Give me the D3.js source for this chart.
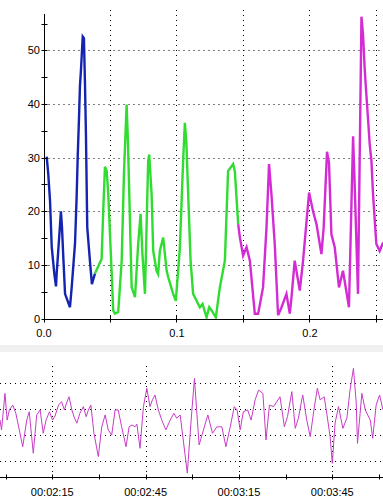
<!DOCTYPE html>
<html><head><meta charset="utf-8">
<script src="https://cdn.jsdelivr.net/npm/d3@7"></script>
<style>
html,body{margin:0;padding:0;background:#fff;}
svg{display:block;}
text{font-family:Arial,"Liberation Sans",sans-serif;font-size:11px;fill:#000;}
</style></head>
<body>
<script>
// ---------- data: top chart (x, value) ----------
const blueSeries = [
 [0.0024,30.2],[0.0036,26.9],[0.0049,22],[0.0062,13.3],[0.0081,8.4],[0.0094,6],[0.0099,8.4],
 [0.0111,12.6],[0.0131,20],[0.0139,17],[0.0149,11.4],[0.0162,4.6],[0.0199,2.1],[0.0212,5.8],
 [0.0237,14],[0.0249,22.5],[0.0257,30],[0.0267,37.4],[0.0274,43.3],[0.0282,46.5],[0.0295,52.6],
 [0.0304,52.3],[0.0312,43.7],[0.0319,34.6],[0.0329,17],[0.0349,10.8],[0.0364,6.4],[0.0387,8.4]
];
const greenSeries = [
 [0.0387,8.4],[0.0437,11.1],[0.0449,20],[0.0462,28.3],[0.0475,27.5],[0.0487,23.2],[0.0512,8.9],
 [0.0524,1.5],[0.0537,0.9],[0.0562,1.2],[0.0588,10.8],[0.0605,27],[0.0625,39.9],[0.0635,33],
 [0.0663,5.8],[0.0688,4],[0.0712,13.9],[0.0730,19.5],[0.0744,12],[0.0763,4.6],[0.0787,29.4],
 [0.0795,30.6],[0.0813,23.2],[0.0825,12.6],[0.0850,8.9],[0.0862,8.3],[0.0875,12.6],[0.0900,15.1],
 [0.0913,12],[0.0926,8.9],[0.0938,7.7],[0.0975,4.6],[0.0995,3.3],[0.1025,13],[0.1050,29.4],
 [0.1063,36.5],[0.1074,33],[0.1088,23.2],[0.1106,10.8],[0.1125,4.6],[0.1151,3.3],[0.1176,2.1],
 [0.1196,2.7],[0.1226,0.2],[0.1246,2.1],[0.1264,1.5],[0.1296,0.2],[0.1326,5.8],[0.1364,10.8],
 [0.1388,27.5],[0.1426,28.8],[0.1439,27.5],[0.1464,17.6]
];
const magentaSeries = [
 [0.1464,17.6],[0.1477,15.1],[0.1501,11.7],[0.1527,13.3],[0.1552,10.8],[0.1589,0.9],[0.1614,0.9],
 [0.1651,5.8],[0.1677,17],[0.1696,28.8],[0.1714,23.2],[0.1739,13.9],[0.1764,0.6],[0.1790,2.1],
 [0.1827,4.6],[0.1852,0.9],[0.1865,4],[0.1889,10.8],[0.1902,8.9],[0.1927,5.2],[0.1952,10.8],
 [0.1997,23.5],[0.2027,20],[0.2053,17.6],[0.2090,12],[0.2107,17],[0.2132,31.1],[0.2147,29],
 [0.2165,15.7],[0.2190,13.3],[0.2222,5.8],[0.2252,8.9],[0.2297,2.1],[0.2328,34],[0.2340,25],
 [0.2365,4.6],[0.2391,56.3],[0.2403,52.9],[0.2415,46.7],[0.2428,41.7],[0.2440,37.4],[0.2453,32.5],
 [0.2466,29.4],[0.2478,23.2],[0.2498,15.7],[0.2503,13.9],[0.2528,12.6],[0.2549,13.9],[0.2560,14.2]
];
const topYMajor = [0,10,20,30,40,50];
const topYMinor = [5,15,25,35,45,55];
const topXMajor = [0.0,0.1,0.2];
const topXMinor = [0.05,0.15,0.25];

// ---------- data: bottom chart (seconds, value) ----------
const bottomTimes = [118.2,118.7,119.8,120.5,121.2,122.3,123.3,124.4,125.5,126.8,127.6,128.9,130.0,131.1,
 132.1,133.0,134.1,135.1,135.9,137.0,138.0,138.9,139.6,140.4,141.3,142.0,142.9,143.9,145.0,145.9,
 146.6,147.4,148.4,149.8,150.9,152.0,153.0,154.1,155.2,156.2,157.3,158.7,159.7,160.6,161.6,162.2,
 163.2,164.3,165.4,166.4,167.2,168.0,169.1,170.2,171.5,172.9,174.1,175.0,176.1,177.1,178.4,179.8,
 180.7,181.4,182.2,183.6,185.0,186.5,187.9,189.5,190.8,192.2,193.5,194.4,195.4,196.4,197.8,198.9,
 200.2,201.3,202.7,203.7,204.8,206.1,208.2,209.6,210.6,212.0,213.1,214.1,215.5,216.8,217.9,219.1,
 220.2,221.1,222.4,223.3,224.3,225.0,225.9,227.0,228.4,229.7,230.7,231.8,232.7,233.1,234.5,235.6,
 237.2,238.0,239.1,240.2,241.3];
const bottomValues = [25.8,22.0,36.1,25.8,29.7,31.6,28.4,22.0,15.5,25.8,29.0,13.0,27.8,29.7,
 20.7,25.8,29.0,25.8,27.4,31.6,32.9,29.7,32.4,34.8,29.7,27.0,24.6,28.5,31.0,27.1,
 29.7,31.6,20.7,11.7,23.2,27.8,22.0,20.0,29.7,29.7,23.2,15.5,23.2,23.9,23.2,24.2,
 14.9,31.0,38.1,31.0,33.6,35.5,29.7,25.8,22.0,25.8,28.4,26.5,27.8,18.1,5.3,28.4,
 41.9,29.7,16.2,22.0,27.8,20.7,23.2,23.2,15.5,23.2,31.0,29.7,22.0,29.0,29.7,25.8,
 33.6,37.4,36.1,18.1,31.6,31.0,34.8,23.2,27.1,36.8,22.6,26.5,35.5,25.8,19.4,29.7,
 38.1,33.6,34.8,27.8,19.4,9.1,24.6,31.0,22.6,26.6,37.4,45.8,32.3,16.8,36.1,29.7,
 25.8,18.8,31.6,35.5,29.7];
const bottomGridValues = [10,20,30,40];
const bottomTicks = [120,135,150,165,180,195,210,225,240];
const bottomLabelTicks = [135,165,195,225];

// ---------- drawing ----------
const W = 383, H = 503;
const svg = d3.select("body").append("svg").attr("width", W).attr("height", H);

// top chart scales
const x = d3.scaleLinear().domain([0, 0.2553]).range([43.5, 383]);
const y = d3.scaleLinear().domain([0, 56.8]).range([318.5, 14]);

const topG = svg.append("g");
// grid
topG.selectAll("line.hg").data(topYMajor.filter(d => d > 0)).join("line")
  .attr("x1", x(0)).attr("x2", W).attr("y1", d => Math.round(y(d)) + 0.5).attr("y2", d => Math.round(y(d)) + 0.5)
  .attr("stroke", "#000").attr("stroke-width", 1).attr("stroke-dasharray", "1,4");
topG.selectAll("line.vg").data(topXMajor.concat(topXMinor).filter(d => d > 0)).join("line")
  .attr("x1", d => Math.round(x(d)) + 0.5).attr("x2", d => Math.round(x(d)) + 0.5)
  .attr("y1", 10).attr("y2", y(0))
  .attr("stroke", "#000").attr("stroke-width", 1).attr("stroke-dasharray", "1,4");

// series
svg.append("defs").append("clipPath").attr("id", "clipTop")
  .append("rect").attr("x", 43).attr("y", 0).attr("width", W - 43).attr("height", 320);
const line = d3.line().x(d => x(d[0])).y(d => y(d[1]));
const series = [
  {data: blueSeries, color: "#1424b0"},
  {data: greenSeries, color: "#30dc30"},
  {data: magentaSeries, color: "#d42cd4"}
];
topG.append("g").attr("clip-path", "url(#clipTop)")
  .selectAll("path").data(series).join("path")
  .attr("d", d => line(d.data)).attr("fill", "none")
  .attr("stroke", d => d.color).attr("stroke-width", 2.4);

// axes
const yAxisX = Math.round(x(0)) + 0.5;
topG.append("line").attr("x1", yAxisX).attr("x2", yAxisX).attr("y1", 14).attr("y2", y(0)).attr("stroke", "#000");
topG.append("line").attr("x1", x(0)).attr("x2", W).attr("y1", Math.round(y(0)) + 0.5).attr("y2", Math.round(y(0)) + 0.5).attr("stroke", "#000");
topG.selectAll("line.yt").data(topYMajor.concat(topYMinor)).join("line")
  .attr("x1", yAxisX - 3).attr("x2", yAxisX + 3)
  .attr("y1", d => Math.round(y(d)) + 0.5).attr("y2", d => Math.round(y(d)) + 0.5).attr("stroke", "#000");
topG.selectAll("text.yl").data(topYMajor).join("text")
  .attr("x", 40).attr("y", d => y(d) + 4).attr("text-anchor", "end").text(d => d);
topG.selectAll("line.xt").data(topXMajor.concat(topXMinor)).join("line")
  .attr("x1", d => Math.round(x(d)) + 0.5).attr("x2", d => Math.round(x(d)) + 0.5)
  .attr("y1", y(0) - 3).attr("y2", y(0) + 4).attr("stroke", "#000");
topG.selectAll("text.xl").data(topXMajor).join("text")
  .attr("x", d => x(d) + 0.5).attr("y", 337).attr("text-anchor", "middle").text(d => d3.format(".1f")(d));

// separator band
svg.append("rect").attr("x", 0).attr("y", 345).attr("width", W).attr("height", 7).attr("fill", "#f0f0f0");

// bottom chart
const bx = d3.scaleLinear().domain([118.2, 241.3]).range([0, 383]);
const by = d3.scaleLinear().domain([4, 46.5]).range([476.5, 366.5]);
const bot = svg.append("g");
bot.selectAll("line.hg").data(bottomGridValues).join("line")
  .attr("x1", 0).attr("x2", W).attr("y1", d => Math.round(by(d)) + 0.5).attr("y2", d => Math.round(by(d)) + 0.5)
  .attr("stroke", "#000").attr("stroke-dasharray", "1,4");
bot.selectAll("line.vg").data(bottomLabelTicks).join("line")
  .attr("x1", d => Math.round(bx(d)) + 0.5).attr("x2", d => Math.round(bx(d)) + 0.5)
  .attr("y1", 366).attr("y2", by(4))
  .attr("stroke", "#000").attr("stroke-dasharray", "1,4");
const bline = d3.line().x((d, i) => bx(bottomTimes[i])).y(d => by(d));
bot.append("path").attr("d", bline(bottomValues)).attr("fill", "none")
  .attr("stroke", "#c83cc8").attr("stroke-width", 1);
const axY = Math.round(by(4)) + 0.5;
bot.append("line").attr("x1", 0).attr("x2", W).attr("y1", axY).attr("y2", axY).attr("stroke", "#000");
bot.selectAll("line.t").data(bottomTicks).join("line")
  .attr("x1", d => Math.round(bx(d)) + 0.5).attr("x2", d => Math.round(bx(d)) + 0.5)
  .attr("y1", axY - 3).attr("y2", axY + 2).attr("stroke", "#000");
const fmt = s => {
  const h = Math.floor(s / 3600), m = Math.floor((s % 3600) / 60), sec = Math.round(s % 60);
  const p = n => String(n).padStart(2, "0");
  return p(h) + ":" + p(m) + ":" + p(sec);
};
bot.selectAll("text.bl").data(bottomLabelTicks).join("text")
  .attr("x", d => bx(d)).attr("y", 496).attr("text-anchor", "middle").text(d => fmt(d));
</script>
</body></html>
